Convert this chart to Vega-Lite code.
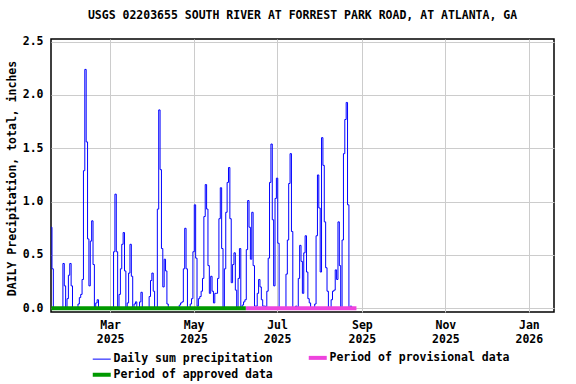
{
  "$schema": "https://vega.github.io/schema/vega-lite/v6.json",
  "autosize": "none",
  "width": 503,
  "height": 273,
  "padding": {"left": 51, "top": 39, "right": 22, "bottom": 72},
  "background": "white",
  "title": {"text": "USGS 02203655 SOUTH RIVER AT FORREST PARK ROAD, AT ATLANTA, GA", "font": "DejaVu Sans Mono", "fontSize": 11.5, "fontWeight": "bold", "anchor": "middle", "offset": 14, "color": "black"},
  "config": {
    "view": {"stroke": "black", "strokeWidth": 1.5},
    "axis": {"labelFont": "DejaVu Sans Mono", "labelFontWeight": "bold", "labelFontSize": 11.5, "labelColor": "black", "titleFont": "DejaVu Sans Mono", "titleFontWeight": "bold", "titleFontSize": 11.5, "titleColor": "black", "gridColor": "#cccccc", "gridWidth": 1, "gridOpacity": 1, "domain": false, "ticks": false}
  },
  "layer": [
    {
      "data": {"values": [
        {"date": "2025-01-17", "value": 0.76}, {"date": "2025-01-18", "value": 0.37}, {"date": "2025-01-19", "value": 0},
        {"date": "2025-01-25", "value": 0}, {"date": "2025-01-26", "value": 0.42}, {"date": "2025-01-27", "value": 0.21}, {"date": "2025-01-28", "value": 0},
        {"date": "2025-01-29", "value": 0.09}, {"date": "2025-01-30", "value": 0.31}, {"date": "2025-01-31", "value": 0.42}, {"date": "2025-02-01", "value": 0.21}, {"date": "2025-02-02", "value": 0},
        {"date": "2025-02-05", "value": 0}, {"date": "2025-02-06", "value": 0.04}, {"date": "2025-02-07", "value": 0.10}, {"date": "2025-02-08", "value": 0.13}, {"date": "2025-02-09", "value": 0.27},
        {"date": "2025-02-10", "value": 1.29}, {"date": "2025-02-11", "value": 2.24}, {"date": "2025-02-12", "value": 1.56}, {"date": "2025-02-13", "value": 0.65}, {"date": "2025-02-14", "value": 0.21},
        {"date": "2025-02-15", "value": 0.63}, {"date": "2025-02-16", "value": 0.82}, {"date": "2025-02-17", "value": 0.41}, {"date": "2025-02-18", "value": 0}, {"date": "2025-02-19", "value": 0.05},
        {"date": "2025-02-20", "value": 0.08}, {"date": "2025-02-21", "value": 0},
        {"date": "2025-03-03", "value": 0}, {"date": "2025-03-04", "value": 0.53}, {"date": "2025-03-05", "value": 1.07}, {"date": "2025-03-06", "value": 0.53}, {"date": "2025-03-07", "value": 0},
        {"date": "2025-03-08", "value": 0.13}, {"date": "2025-03-09", "value": 0.37}, {"date": "2025-03-10", "value": 0.60}, {"date": "2025-03-11", "value": 0.71}, {"date": "2025-03-12", "value": 0.35},
        {"date": "2025-03-13", "value": 0}, {"date": "2025-03-14", "value": 0.05}, {"date": "2025-03-15", "value": 0.33}, {"date": "2025-03-16", "value": 0.60}, {"date": "2025-03-17", "value": 0.30},
        {"date": "2025-03-18", "value": 0}, {"date": "2025-03-19", "value": 0.04}, {"date": "2025-03-20", "value": 0.06}, {"date": "2025-03-21", "value": 0},
        {"date": "2025-03-22", "value": 0}, {"date": "2025-03-23", "value": 0.06}, {"date": "2025-03-24", "value": 0.15}, {"date": "2025-03-25", "value": 0},
        {"date": "2025-03-29", "value": 0}, {"date": "2025-03-30", "value": 0.11}, {"date": "2025-03-31", "value": 0.26}, {"date": "2025-04-01", "value": 0.33}, {"date": "2025-04-02", "value": 0.16}, {"date": "2025-04-03", "value": 0},
        {"date": "2025-04-04", "value": 0}, {"date": "2025-04-05", "value": 0.93}, {"date": "2025-04-06", "value": 1.86}, {"date": "2025-04-07", "value": 1.30}, {"date": "2025-04-08", "value": 0.56},
        {"date": "2025-04-09", "value": 0.20}, {"date": "2025-04-10", "value": 0.46}, {"date": "2025-04-11", "value": 0.35}, {"date": "2025-04-12", "value": 0.04}, {"date": "2025-04-13", "value": 0},
        {"date": "2025-04-20", "value": 0}, {"date": "2025-04-21", "value": 0.03}, {"date": "2025-04-22", "value": 0.05}, {"date": "2025-04-23", "value": 0.06}, {"date": "2025-04-24", "value": 0.37},
        {"date": "2025-04-25", "value": 0.75}, {"date": "2025-04-26", "value": 0.37}, {"date": "2025-04-27", "value": 0},
        {"date": "2025-04-28", "value": 0}, {"date": "2025-04-29", "value": 0.04}, {"date": "2025-04-30", "value": 0.09}, {"date": "2025-05-01", "value": 0.53}, {"date": "2025-05-02", "value": 0.97},
        {"date": "2025-05-03", "value": 0.47}, {"date": "2025-05-04", "value": 0.02}, {"date": "2025-05-05", "value": 0.09}, {"date": "2025-05-06", "value": 0.11}, {"date": "2025-05-07", "value": 0.16},
        {"date": "2025-05-08", "value": 0.28}, {"date": "2025-05-09", "value": 0.86}, {"date": "2025-05-10", "value": 1.16}, {"date": "2025-05-11", "value": 0.93}, {"date": "2025-05-12", "value": 0.40},
        {"date": "2025-05-13", "value": 0.14}, {"date": "2025-05-14", "value": 0.30}, {"date": "2025-05-15", "value": 0.16}, {"date": "2025-05-16", "value": 0.05}, {"date": "2025-05-17", "value": 0.14},
        {"date": "2025-05-18", "value": 0.14}, {"date": "2025-05-19", "value": 0.28}, {"date": "2025-05-20", "value": 0.84}, {"date": "2025-05-21", "value": 1.13}, {"date": "2025-05-22", "value": 0.56},
        {"date": "2025-05-23", "value": 0}, {"date": "2025-05-24", "value": 0.37}, {"date": "2025-05-25", "value": 0.90}, {"date": "2025-05-26", "value": 1.18}, {"date": "2025-05-27", "value": 1.32},
        {"date": "2025-05-28", "value": 0.84}, {"date": "2025-05-29", "value": 0.24}, {"date": "2025-05-30", "value": 0.41}, {"date": "2025-05-31", "value": 0.52}, {"date": "2025-06-01", "value": 0.17},
        {"date": "2025-06-02", "value": 0}, {"date": "2025-06-03", "value": 0.28}, {"date": "2025-06-04", "value": 0.56}, {"date": "2025-06-05", "value": 0}, {"date": "2025-06-06", "value": 0.03},
        {"date": "2025-06-07", "value": 0.06}, {"date": "2025-06-08", "value": 0.08}, {"date": "2025-06-09", "value": 0.55}, {"date": "2025-06-10", "value": 1.01}, {"date": "2025-06-11", "value": 0.76},
        {"date": "2025-06-12", "value": 0.46}, {"date": "2025-06-13", "value": 0.90}, {"date": "2025-06-14", "value": 0.40}, {"date": "2025-06-15", "value": 0.02}, {"date": "2025-06-16", "value": 0.02},
        {"date": "2025-06-17", "value": 0.14}, {"date": "2025-06-18", "value": 0.27}, {"date": "2025-06-19", "value": 0.20}, {"date": "2025-06-20", "value": 0.08}, {"date": "2025-06-21", "value": 0.02},
        {"date": "2025-06-22", "value": 0.02}, {"date": "2025-06-23", "value": 0}, {"date": "2025-06-24", "value": 0.16}, {"date": "2025-06-25", "value": 0.47}, {"date": "2025-06-26", "value": 1.18},
        {"date": "2025-06-27", "value": 1.54}, {"date": "2025-06-28", "value": 0.83}, {"date": "2025-06-29", "value": 0.21}, {"date": "2025-06-30", "value": 1.03}, {"date": "2025-07-01", "value": 1.22},
        {"date": "2025-07-02", "value": 0.61}, {"date": "2025-07-03", "value": 0},
        {"date": "2025-07-07", "value": 0}, {"date": "2025-07-08", "value": 0.32}, {"date": "2025-07-09", "value": 0.64}, {"date": "2025-07-10", "value": 1.17}, {"date": "2025-07-11", "value": 1.45},
        {"date": "2025-07-12", "value": 0.72}, {"date": "2025-07-13", "value": 0}, {"date": "2025-07-14", "value": 0}, {"date": "2025-07-15", "value": 0.02}, {"date": "2025-07-16", "value": 0},
        {"date": "2025-07-17", "value": 0.28}, {"date": "2025-07-18", "value": 0.59}, {"date": "2025-07-19", "value": 0.44}, {"date": "2025-07-20", "value": 0.14}, {"date": "2025-07-21", "value": 0.52},
        {"date": "2025-07-22", "value": 0.68}, {"date": "2025-07-23", "value": 0.34}, {"date": "2025-07-24", "value": 0.09}, {"date": "2025-07-25", "value": 0.05}, {"date": "2025-07-26", "value": 0},
        {"date": "2025-07-28", "value": 0}, {"date": "2025-07-29", "value": 0.04}, {"date": "2025-07-30", "value": 0.68}, {"date": "2025-07-31", "value": 1.25}, {"date": "2025-08-01", "value": 0.94},
        {"date": "2025-08-02", "value": 0.34}, {"date": "2025-08-03", "value": 1.60}, {"date": "2025-08-04", "value": 1.34}, {"date": "2025-08-05", "value": 0.81}, {"date": "2025-08-06", "value": 0.38},
        {"date": "2025-08-07", "value": 0.16}, {"date": "2025-08-08", "value": 0}, {"date": "2025-08-09", "value": 0}, {"date": "2025-08-10", "value": 0.08}, {"date": "2025-08-11", "value": 0.16},
        {"date": "2025-08-12", "value": 0.17}, {"date": "2025-08-13", "value": 0.36}, {"date": "2025-08-14", "value": 0.27}, {"date": "2025-08-15", "value": 0.81}, {"date": "2025-08-16", "value": 0.40},
        {"date": "2025-08-17", "value": 0}, {"date": "2025-08-18", "value": 0.64}, {"date": "2025-08-19", "value": 1.45}, {"date": "2025-08-20", "value": 1.77}, {"date": "2025-08-21", "value": 1.93},
        {"date": "2025-08-22", "value": 0.97}, {"date": "2025-08-23", "value": 0}, {"date": "2025-08-24", "value": 0.02}, {"date": "2025-08-25", "value": 0}
      ]},
      "mark": {"type": "line", "interpolate": "step", "strokeWidth": 1},
      "encoding": {
        "x": {"field": "date", "type": "temporal",
          "scale": {"type": "utc", "domain": [{"year": 2025, "month": 1, "date": 16, "hours": 19, "utc": true}, {"year": 2026, "month": 1, "date": 19, "hours": 9, "utc": true}]},
          "axis": {"title": null, "grid": true, "labelPadding": 7, "labelLineHeight": 14, "labelBaseline": "top",
            "values": [{"year": 2025, "month": 3, "date": 1, "utc": true}, {"year": 2025, "month": 5, "date": 1, "utc": true}, {"year": 2025, "month": 7, "date": 1, "utc": true}, {"year": 2025, "month": 9, "date": 1, "utc": true}, {"year": 2025, "month": 11, "date": 1, "utc": true}, {"year": 2026, "month": 1, "date": 1, "utc": true}],
            "labelExpr": "[utcFormat(datum.value, '%b'), utcFormat(datum.value, '%Y')]"}},
        "y": {"field": "value", "type": "quantitative",
          "scale": {"domain": [-0.035, 2.525], "nice": false, "zero": false},
          "axis": {"title": "DAILY Precipitation, total, inches", "values": [0, 0.5, 1, 1.5, 2, 2.5], "format": ".1f", "labelPadding": 8, "grid": true, "titleX": -39, "titleY": 139, "titleBaseline": "middle", "titleAlign": "center", "titleAngle": -90}},
        "color": {"datum": "Daily sum precipitation", "title": null,
          "scale": {"domain": ["Daily sum precipitation", "Period of provisional data", "Period of approved data"], "range": ["#0000ff", "#ee44dd", "#009900"]},
          "legend": {"title": null, "orient": "none", "direction": "horizontal", "legendX": 45, "legendY": 313, "columns": 2, "columnPadding": 27, "rowPadding": 0, "padding": 0, "labelLimit": 400,
            "values": ["Daily sum precipitation", "Period of provisional data", "Period of approved data"],
            "symbolType": "stroke", "symbolSize": 324, "symbolStrokeWidth": 4, "labelOffset": 6,
            "labelFont": "DejaVu Sans Mono", "labelFontWeight": "bold", "labelFontSize": 11.5, "labelColor": "black",
            "encode": {"symbols": {"update": {"strokeWidth": {"signal": "datum.value === 'Daily sum precipitation' ? 1 : 4"}}}}}}
      }
    },
    {
      "data": {"values": [
        {"period": "Period of approved data", "start": "2025-01-17", "end": "2025-06-08T05:00:00Z"},
        {"period": "Period of provisional data", "start": "2025-06-08T05:00:00Z", "end": "2025-08-28"}
      ]},
      "mark": {"type": "rule", "strokeWidth": 4, "strokeCap": "butt"},
      "encoding": {
        "x": {"field": "start", "type": "temporal"},
        "x2": {"field": "end"},
        "y": {"datum": 0, "type": "quantitative"},
        "color": {"field": "period", "type": "nominal", "title": null,
          "legend": {"title": null, "orient": "none", "direction": "horizontal", "legendX": 45, "legendY": 313, "columns": 2, "columnPadding": 27, "rowPadding": 0, "padding": 0, "labelLimit": 400,
            "values": ["Daily sum precipitation", "Period of provisional data", "Period of approved data"],
            "symbolType": "stroke", "symbolSize": 324, "symbolStrokeWidth": 4, "labelOffset": 6,
            "labelFont": "DejaVu Sans Mono", "labelFontWeight": "bold", "labelFontSize": 11.5, "labelColor": "black",
            "encode": {"symbols": {"update": {"strokeWidth": {"signal": "datum.value === 'Daily sum precipitation' ? 1 : 4"}}}}}}
      }
    }
  ]
}
